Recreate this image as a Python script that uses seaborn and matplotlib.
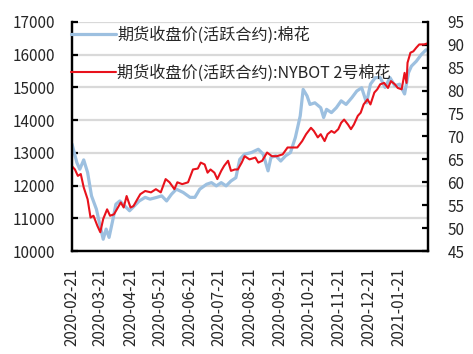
#!/usr/bin/env python3

import seaborn as sns
import matplotlib.pyplot as plt
import matplotlib.dates as mdates
import pandas

# Zhengzhou cotton futures close (left axis, yuan/t)
cf_dates = [
    "2020-02-21", "2020-02-26", "2020-02-29", "2020-03-04", "2020-03-08", "2020-03-12",
    "2020-03-17", "2020-03-20", "2020-03-24", "2020-03-27", "2020-03-30", "2020-04-03",
    "2020-04-06", "2020-04-10", "2020-04-15", "2020-04-20", "2020-04-25", "2020-04-30",
    "2020-05-06", "2020-05-11", "2020-05-18", "2020-05-23", "2020-05-28", "2020-06-02",
    "2020-06-07", "2020-06-14", "2020-06-21", "2020-06-26", "2020-07-01", "2020-07-08",
    "2020-07-13", "2020-07-18", "2020-07-23", "2020-07-28", "2020-08-02", "2020-08-07",
    "2020-08-11", "2020-08-16", "2020-08-23", "2020-08-30", "2020-09-04", "2020-09-09",
    "2020-09-12", "2020-09-17", "2020-09-22", "2020-09-27", "2020-10-02", "2020-10-07",
    "2020-10-12", "2020-10-15", "2020-10-19", "2020-10-22", "2020-10-27", "2020-11-02",
    "2020-11-05", "2020-11-08", "2020-11-13", "2020-11-18", "2020-11-23", "2020-11-28",
    "2020-12-04", "2020-12-09", "2020-12-14", "2020-12-19", "2020-12-23", "2020-12-28",
    "2021-01-02", "2021-01-07", "2021-01-12", "2021-01-17", "2021-01-22", "2021-01-27",
    "2021-01-31", "2021-02-03", "2021-02-08", "2021-02-13", "2021-02-18",
]
cf_close = [
    13270, 12700, 12500, 12785, 12400, 11685,
    11280, 10880, 10360, 10670, 10415, 10970,
    11430, 11530, 11380, 11230, 11380, 11530,
    11640, 11585, 11640, 11685, 11530, 11735,
    11890, 11790, 11640, 11640, 11890, 12040,
    12090, 11990, 12090, 11990, 12140, 12240,
    12800, 12960, 13010, 13110, 12960, 12450,
    12860, 12910, 12750, 12910, 13010, 13470,
    14130, 14940, 14740, 14480, 14530, 14380,
    14080, 14330, 14230, 14380, 14590, 14480,
    14690, 14890, 14990, 14530, 15100, 15300,
    15300, 15000, 15300, 15050, 15100, 14800,
    15450, 15650, 15800, 16000, 16150,
]

# NYBOT No.2 cotton (right axis, cents/lb)
ct_dates = [
    "2020-02-21", "2020-02-24", "2020-02-27", "2020-03-01", "2020-03-04", "2020-03-08",
    "2020-03-11", "2020-03-14", "2020-03-18", "2020-03-21", "2020-03-24", "2020-03-28",
    "2020-03-31", "2020-04-04", "2020-04-07", "2020-04-11", "2020-04-14", "2020-04-17",
    "2020-04-21", "2020-04-24", "2020-04-28", "2020-05-01", "2020-05-06", "2020-05-12",
    "2020-05-17", "2020-05-22", "2020-05-27", "2020-05-31", "2020-06-05", "2020-06-08",
    "2020-06-13", "2020-06-19", "2020-06-24", "2020-06-29", "2020-07-02", "2020-07-06",
    "2020-07-09", "2020-07-12", "2020-07-16", "2020-07-19", "2020-07-23", "2020-07-26",
    "2020-07-30", "2020-08-02", "2020-08-06", "2020-08-09", "2020-08-13", "2020-08-16",
    "2020-08-21", "2020-08-27", "2020-08-30", "2020-09-03", "2020-09-08", "2020-09-13",
    "2020-09-18", "2020-09-24", "2020-09-29", "2020-10-04", "2020-10-09", "2020-10-14",
    "2020-10-18", "2020-10-23", "2020-10-26", "2020-10-30", "2020-11-02", "2020-11-06",
    "2020-11-09", "2020-11-13", "2020-11-16", "2020-11-20", "2020-11-23", "2020-11-26",
    "2020-11-30", "2020-12-03", "2020-12-06", "2020-12-10", "2020-12-13", "2020-12-16",
    "2020-12-20", "2020-12-23", "2020-12-27", "2020-12-30", "2021-01-02", "2021-01-06",
    "2021-01-10", "2021-01-13", "2021-01-17", "2021-01-20", "2021-01-24", "2021-01-27",
    "2021-01-29", "2021-01-30", "2021-02-02", "2021-02-05", "2021-02-08", "2021-02-11",
    "2021-02-16", "2021-02-19",
]
ct_close = [
    63.5, 62.8, 61.4, 61.8, 58.9, 56.3,
    52.3, 52.7, 50.5, 49.1, 52.0, 54.1,
    52.7, 53.0, 54.1, 55.6, 54.5, 57.0,
    54.5, 54.8, 56.3, 57.4, 58.1, 57.8,
    58.5, 57.8, 60.7, 60.0, 58.5, 60.0,
    59.6, 60.0, 62.8, 63.0, 64.3, 63.9,
    62.1, 62.8, 62.1, 60.7, 62.5, 63.6,
    64.7, 62.5, 62.8, 62.8, 64.3, 65.7,
    65.0, 65.4, 64.3, 64.7, 66.5, 65.7,
    65.7, 66.1, 67.6, 67.6, 67.6, 69.0,
    70.5, 71.9, 71.2, 69.8, 70.5, 69.0,
    70.5, 71.2, 70.8, 71.6, 73.0, 73.7,
    72.6, 71.6, 72.6, 74.5, 75.2, 77.0,
    78.1, 77.0, 79.6, 80.3, 81.4, 81.7,
    80.6, 82.1, 81.4, 80.6, 80.3, 83.9,
    81.7, 86.1, 88.3, 88.6, 89.4, 90.1,
    90.1, 90.3,
]

cf_label = "期货收盘价(活跃合约):棉花"
ct_label = "期货收盘价(活跃合约):NYBOT 2号棉花"
left_ticks = [10000, 11000, 12000, 13000, 14000, 15000, 16000, 17000]
right_ticks = [45, 50, 55, 60, 65, 70, 75, 80, 85, 90, 95]

sns.set_style("white")
plt.rcParams["font.family"] = ["Noto Sans CJK SC", "DejaVu Sans"]
plt.rcParams["axes.unicode_minus"] = False


def main():
    cf = pandas.DataFrame({"date": pandas.to_datetime(cf_dates), "close": cf_close})
    ct = pandas.DataFrame({"date": pandas.to_datetime(ct_dates), "close": ct_close})

    fig = plt.figure(figsize=(4.73, 3.54), dpi=100)
    ax = fig.add_axes([72 / 473, 1 - 251 / 354, 356 / 473, 229 / 354])
    ax2 = ax.twinx()

    sns.lineplot(data=cf, x="date", y="close", ax=ax, color="#9DC0E0",
                 linewidth=2.3, label=cf_label, legend=False)
    sns.lineplot(data=ct, x="date", y="close", ax=ax2, color="#E8121C",
                 linewidth=1.5, label=ct_label, legend=False)

    ax.set_xlim(pandas.Timestamp("2020-02-21"), pandas.Timestamp("2021-02-20"))
    ax.set_ylim(10000, 17000)
    ax2.set_ylim(45, 95)
    ax.set_yticks(left_ticks)
    ax2.set_yticks(right_ticks)
    ax.set_xlabel("")
    ax.set_ylabel("")
    ax2.set_ylabel("")

    ax.xaxis.set_major_locator(mdates.MonthLocator(bymonthday=21))
    ax.xaxis.set_major_formatter(mdates.DateFormatter("%Y-%m-%d"))

    # Light horizontal grid only from the left axis
    ax.grid(axis="y", color="#D9D9D9", linewidth=1.6)
    ax.grid(axis="x", visible=False)
    ax.set_axisbelow(True)

    for a in (ax, ax2):
        a.spines["top"].set_visible(False)
        for side in ("left", "right", "bottom"):
            a.spines[side].set_color("black")
            a.spines[side].set_linewidth(1.6)
        a.tick_params(direction="in", length=4, width=1.6, color="black",
                      labelsize=11, pad=12)
    ax.tick_params(axis="x", rotation=90, pad=12)
    ax2.tick_params(axis="y", pad=14)

    handles = ax.get_lines()[:1] + ax2.get_lines()[:1]
    fig.legend(handles, [cf_label, ct_label], loc="upper left",
               bbox_to_anchor=(63 / 473, 1 - 18 / 354), frameon=False,
               fontsize=11.6, handlelength=2.8, handletextpad=0.05,
               borderpad=0, labelspacing=1.3)

    fig.savefig("out.png", dpi=100)


if __name__ == "__main__":
    main()
